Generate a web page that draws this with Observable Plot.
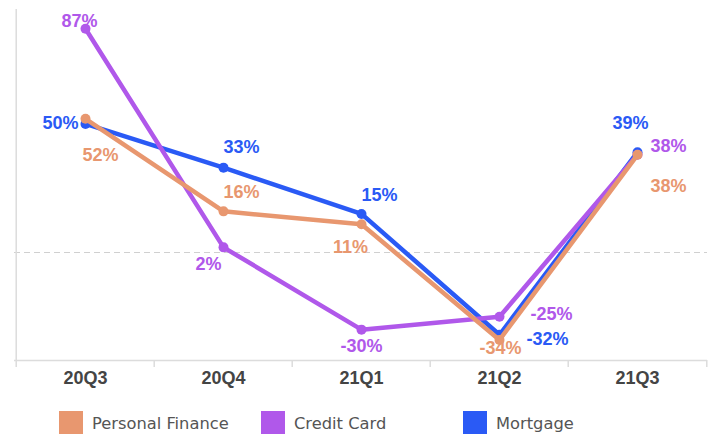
<!DOCTYPE html>
<html>
<head>
<meta charset="utf-8">
<script src="https://cdn.jsdelivr.net/npm/d3@7"></script>
<script src="https://cdn.jsdelivr.net/npm/@observablehq/plot@0.6"></script>
<style>
  html, body { margin: 0; padding: 0; background: #fff; }
  #chart svg { display: block; }
  .legend { display: flex; margin-left: 59px; margin-top: 11px; font-family: "DejaVu Sans", Verdana, sans-serif; font-size: 16.3px; color: #555; }
  .legend .item { display: flex; align-items: center; width: 202px; }
  .legend .sw { width: 24px; height: 24px; margin-right: 9px; }
</style>
</head>
<body>
<div id="chart"></div>
<script>
// ---- data ----
const quarters = ["20Q3", "20Q4", "21Q1", "21Q2", "21Q3"];
const seriesNames = ["Personal Finance", "Credit Card", "Mortgage"];
const personalFinance = [52, 16, 11, -34, 38];
const creditCard = [87, 2, -30, -25, 38];
const mortgage = [50, 33, 15, -32, 39];
const colors = ["#e8976f", "#b058ea", "#2a5af5"];

// ---- layout (label offsets in px, per series per quarter) ----
const labelDx = {
  "Personal Finance": [15, 18, -11, 1, 31],
  "Credit Card": [-6, -15, 0, 52, 31],
  "Mortgage": [-25, 18, 18, 48, -7]
};
const labelDy = {
  "Personal Finance": [36, -19, 23, 8, 31],
  "Credit Card": [-8, 17, 17, -3, -9],
  "Mortgage": [-1, -20, -19, 4, -29]
};

const valuesBySeries = {
  "Personal Finance": personalFinance,
  "Credit Card": creditCard,
  "Mortgage": mortgage
};
const colorOf = Object.fromEntries(seriesNames.map((s, i) => [s, colors[i]]));

const W = 714, H = 400, ML = 14, MR = 7, MT = 9, MB = 40;
const bw = (W - ML - MR) / quarters.length;

const rows = s => quarters.map((q, i) => ({q, v: valuesBySeries[s][i], s, i}));
const drawOrder = ["Mortgage", "Credit Card", "Personal Finance"];

const marks = [
  // zero dashed line
  Plot.ruleY([0], {stroke: "#d0d0d0", strokeDasharray: "6,4", strokeWidth: 1}),
  // left frame line
  Plot.ruleX([quarters[0]], {stroke: "#dcdcdc", strokeWidth: 1.5, dx: -bw / 2}),
  // bottom axis line
  Plot.ruleY([-42], {stroke: "#dcdcdc", strokeWidth: 1.5}),
  // boundary ticks
  Plot.ruleX(quarters, {y1: -42, y2: -42, insetBottom: -7, stroke: "#dcdcdc", strokeWidth: 1.5, dx: -bw / 2}),
  Plot.ruleX([quarters[quarters.length - 1]], {y1: -42, y2: -42, insetBottom: -7, stroke: "#dcdcdc", strokeWidth: 1.5, dx: bw / 2}),
  Plot.axisX({tickSize: 0, tickPadding: 11, label: null, fontSize: 18, fontWeight: "bold", fill: "#444", fontFamily: "Liberation Sans, Arial, sans-serif"})
];

for (const s of drawOrder) {
  const d = rows(s);
  marks.push(Plot.line(d, {x: "q", y: "v", stroke: colorOf[s], strokeWidth: 4.5, strokeLinejoin: "round"}));
  marks.push(Plot.dot(d, {x: "q", y: "v", fill: colorOf[s], r: 5}));
}
for (const s of drawOrder) {
  rows(s).forEach((r, i) => {
    marks.push(Plot.text([r], {
      x: "q", y: "v", text: d => d.v + "%",
      dx: labelDx[s][i], dy: labelDy[s][i],
      fill: colorOf[s], fontSize: 18, fontWeight: "bold",
      fontFamily: "Liberation Sans, Arial, sans-serif"
    }));
  });
}

const chart = Plot.plot({
  width: W, height: H,
  marginLeft: ML, marginRight: MR, marginTop: MT, marginBottom: MB,
  x: {type: "band", domain: quarters, padding: 0, axis: null, label: null},
  y: {domain: [-42, 94.5], axis: null},
  style: {background: "#fff", fontFamily: "Liberation Sans, Arial, sans-serif"},
  marks
});
document.getElementById("chart").appendChild(chart);

const legend = document.createElement("div");
legend.className = "legend";
seriesNames.forEach((s, i) => {
  const item = document.createElement("div");
  item.className = "item";
  const sw = document.createElement("span");
  sw.className = "sw";
  sw.style.background = colors[i];
  const t = document.createElement("span");
  t.textContent = s;
  item.appendChild(sw);
  item.appendChild(t);
  legend.appendChild(item);
});
document.getElementById("chart").appendChild(legend);
</script>
</body>
</html>
